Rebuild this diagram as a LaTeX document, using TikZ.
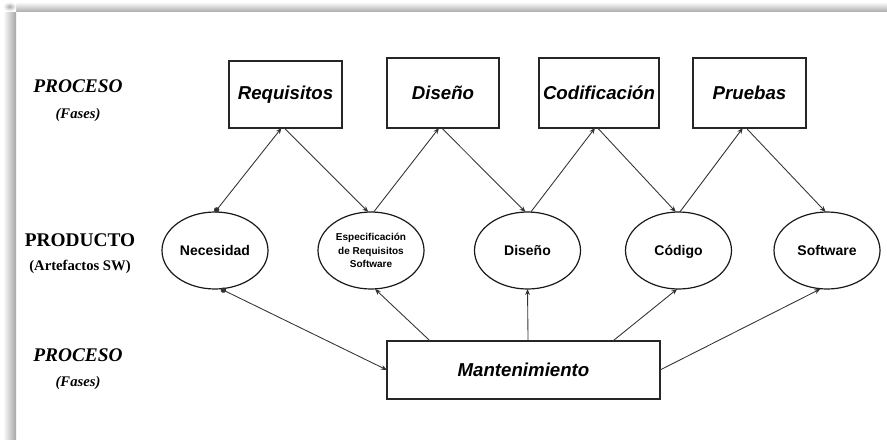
\documentclass[tikz,border=0pt]{standalone}
\usepackage{fontspec}
\setmainfont{Liberation Sans}
\newfontfamily\lserif{Liberation Serif}
\usetikzlibrary{arrows.meta,shapes.geometric}
\tikzset{
  fase/.style={draw=black!85, line width=1.2pt, inner sep=0pt, outer sep=0pt,
    font=\fontsize{14}{16}\selectfont\bfseries\itshape},
  prod/.style={draw=black!90, line width=0.9pt, ellipse, inner sep=0pt, outer sep=0pt,
    minimum width=79.5pt, minimum height=57.75pt, align=center,
    font=\fontsize{10.5}{12}\selectfont\bfseries},
  prodone/.style={prod, text height=7.6pt, text depth=0.4pt},
  lbl/.style={font=\lserif\fontsize{14.5}{16}\selectfont\bfseries},
  sublbl/.style={font=\lserif\fontsize{11}{13}\selectfont\bfseries},
  conn/.style={draw=black!80, line width=0.65pt, -{Stealth[length=4.5pt,width=3.6pt]}},
  dotconn/.style={draw=black!80, line width=0.65pt, {Circle[length=4pt]}-{Stealth[length=4.5pt,width=3.6pt]}},
}
\begin{document}
\begin{tikzpicture}[x=0.75pt,y=-0.75pt]
\useasboundingbox (0,0) rectangle (887,439);
\fill[white] (0,0) rectangle (887,439);
% frame shadow
\shade[left color=white, right color=gray!70] (3,11) rectangle (16,439);
\shade[top color=white, bottom color=gray!60] (16,2) rectangle (887,11);
\shade[inner color=gray!65, outer color=white] (3,2) rectangle (16,11);

% left labels
\node[lbl] (p1) at (78,86) {\itshape PROCESO};
\node[sublbl] (f1) at (78,115) {\itshape (Fases)};
\node[lbl] (p2) at (80,240) {PRODUCTO};
\node[sublbl] (f2) at (80,267) {(Artefactos SW)};
\node[lbl] (p3) at (78,355) {\itshape PROCESO};
\node[sublbl] (f3) at (78,383) {\itshape (Fases)};

% phase boxes
\node[fase, minimum width=84.75pt, minimum height=50.25pt] (req) at (285.5,94.5) {Requisitos};
\node[fase, minimum width=84pt, minimum height=52.5pt] (dis) at (443,93) {Diseño};
\node[fase, minimum width=90pt, minimum height=52.5pt] (cod) at (599,93) {Codificación};
\node[fase, minimum width=84.75pt, minimum height=52.5pt] (pru) at (749.5,93) {Pruebas};
\node[fase, minimum width=204.75pt, minimum height=43.5pt] (man) at (523.5,370) {Mantenimiento};

% products
\node[prodone] (nec) at (215,250.5) {Necesidad};
\node[prod, font=\fontsize{7.5}{10.1}\selectfont\bfseries] (ers) at (371,250.5) {Especificación\\de Requisitos\\Software};
\node[prodone] (dse) at (527.5,250.5) {Diseño};
\node[prodone] (cdg) at (678.5,250.5) {Código};
\node[prodone] (sw) at (827,250.5) {Software};

% top connectors
\draw[dotconn] (nec.north) -- ([xshift=-3pt]req.south);
\draw[conn] ([xshift=-1pt]req.south) -- ([xshift=-2pt]ers.north);
\draw[conn] ([xshift=2pt]ers.north) -- ([xshift=-3pt]dis.south);
\draw[conn] ([xshift=-1pt]dis.south) -- ([xshift=-1.5pt]dse.north);
\draw[conn] ([xshift=2.5pt]dse.north) -- ([xshift=-3pt]cod.south);
\draw[conn] ([xshift=-1pt]cod.south) -- ([xshift=-2pt]cdg.north);
\draw[conn] ([xshift=1pt]cdg.north) -- ([xshift=-5pt]pru.south);
\draw[conn] ([xshift=-2.5pt]pru.south) -- ([xshift=-1pt]sw.north);

% bottom connectors
\draw[dotconn] ([xshift=4.5pt]nec.south) -- (man.west);
\draw[conn] ([xshift=-70pt]man.north) -- ([xshift=3pt]ers.south);
\draw[conn] ([xshift=3.4pt]man.north) -- (dse.south);
\draw[conn] ([xshift=67pt]man.north) -- ([xshift=-1pt]cdg.south);
\draw[conn] (man.east) -- ([xshift=-5pt]sw.south);
\end{tikzpicture}
\end{document}
